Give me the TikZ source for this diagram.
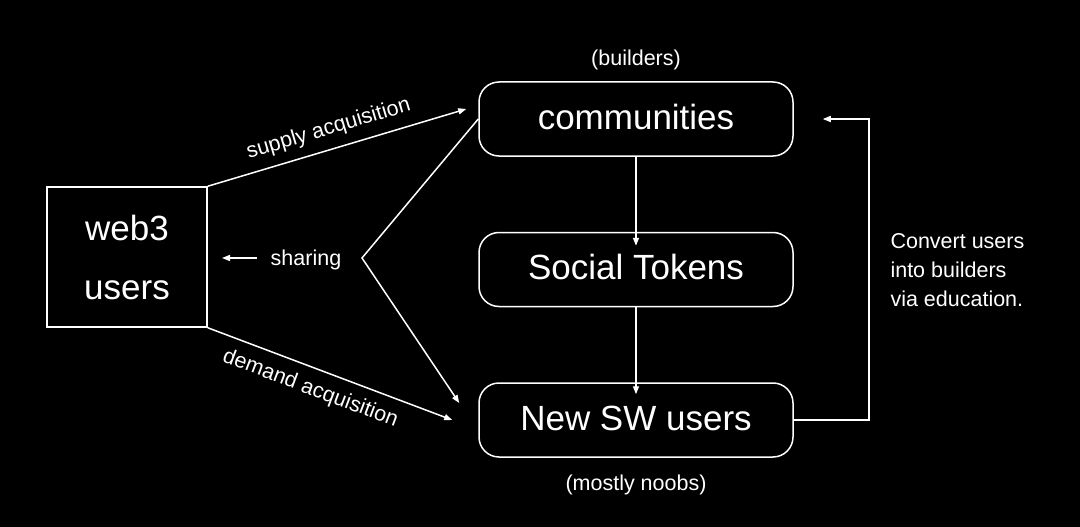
\documentclass[tikz,border=0pt]{standalone}
\usepackage{fontspec}
\setmainfont{Liberation Sans}
\usepackage{tikz}
\usetikzlibrary{positioning, arrows.meta}

\begin{document}
\begin{tikzpicture}[
        x=1pt, y=-1pt,
        ln/.style={draw=white, line width=1.5pt},
        >={Triangle[length=8pt, width=6pt]},
        big/.style={text=white, font=\fontsize{35}{59}\selectfont},
        small/.style={text=white, font=\fontsize{21.5}{29}\selectfont},
        stage/.style={big, ln, rounded corners=20pt, minimum width=314pt, minimum height=74pt, inner sep=0pt, text height=25pt, text depth=5pt},
      ]
        \fill[black] (0,0) rectangle (1080,527);
        \useasboundingbox (0,0) rectangle (1080,527);
        % boxes
        \node[big, ln, minimum width=160pt, minimum height=140pt, align=center, inner sep=0pt] (web) at (127,257) {web3\\users};
        \node[stage] (comm) at (636,119) {communities};
        \node[stage, below=75pt of comm] (tok) {Social Tokens};
        \node[stage, below=75pt of tok] (sw) {New SW users};
        \node[small, above=8pt of comm] (bld) {(builders)};
        \node[small, below=14pt of sw] (noob) {(mostly noobs)};
        % acquisition
        \draw[ln, ->] (web.north east) -- node[small, sloped, above=6pt, pos=0.49] (sup) {supply acquisition} ([shift={(-12,-10)}]comm.west);
        \draw[ln, ->] (web.south east) -- node[small, sloped, below=7pt, pos=0.45] (dem) {demand acquisition} ([xshift=-26]sw.west);
        % sharing
        \coordinate (vtx) at (362,258);
        \node[small] (share) at (306,260) {sharing};
        \coordinate (shl) at (222,258);
        \draw[ln, ->] ([shift={(-10,-2)}]share.west) -- (shl);
        \draw[ln, ->] (comm.west) -- (vtx) -- ([shift={(-19,-17)}]sw.west);
        % flow
        \draw[ln, ->] (comm.south) -- ([yshift=-14]tok.north);
        \draw[ln, ->] (tok.south) -- ([yshift=-12]sw.north);
        \draw[ln, ->] (sw.east) -- ++(75,0) |- ([xshift=29]comm.east);
        \node[small, anchor=west, align=left] (conv) at (887,270) {Convert users\\into builders\\via education.};
      \end{tikzpicture}
\end{document}
